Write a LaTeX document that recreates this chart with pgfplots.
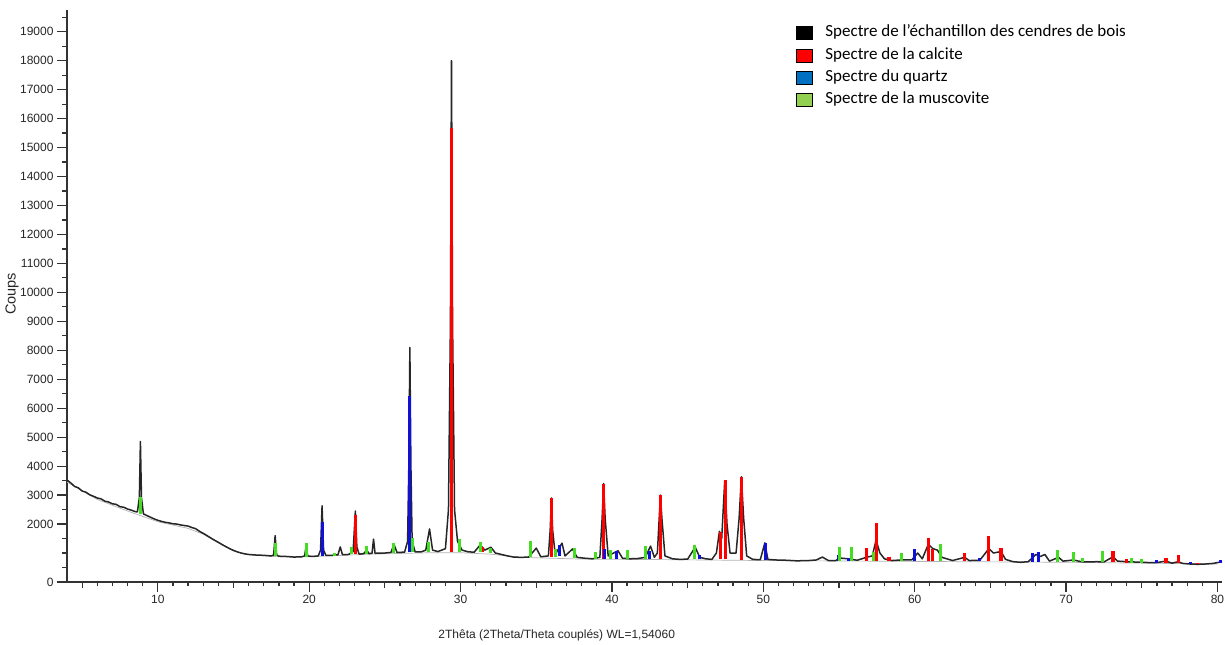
\documentclass[border=0pt]{standalone}
\usepackage{fontspec}
\setmainfont{Liberation Sans}
\newfontfamily\legfont{Carlito}
\usepackage{pgfplots}
\pgfplotsset{compat=1.18}
\definecolor{cred}{HTML}{FF0000}
\definecolor{cblue}{HTML}{1010DD}
\definecolor{cgreen}{HTML}{44DD22}
\definecolor{lblue}{HTML}{0070C0}
\definecolor{lgreen}{HTML}{92D050}
\begin{document}
\begin{tikzpicture}
\begin{axis}[
 scale only axis, width=1155pt, height=572pt,
 xmin=4, xmax=80.3, ymin=0, ymax=19750,
 axis lines=left, axis line style={-, line width=1.2pt, black!80},
 tick align=outside, major tick length=10pt, minor tick length=4.5pt,
 every tick/.style={line width=1.2pt, black!80},
 xtick={10,20,30,40,50,60,70,80},
 minor xtick={5,6,7,8,9,11,12,13,14,15,16,17,18,19,21,22,23,24,25,26,27,28,29,31,32,33,34,35,36,37,38,39,41,42,43,44,45,46,47,48,49,51,52,53,54,55,56,57,58,59,61,62,63,64,65,66,67,68,69,71,72,73,74,75,76,77,78,79},
 extra x ticks={5,15,25,35,45,55,65,75},
 extra x tick labels={},
 extra x tick style={major tick length=6.5pt},
 ytick={0,2000,3000,4000,5000,6000,7000,8000,9000,10000,11000,12000,13000,14000,15000,16000,17000,18000,19000},
 minor ytick={500,1000,1500,2500,3500,4500,5500,6500,7500,8500,9500,10500,11500,12500,13500,14500,15500,16500,17500,18500,19500},
 tick label style={font=\fontsize{12}{14}\selectfont, text=black!85},
 /pgf/number format/assume math mode=true,
 /pgf/number format/1000 sep={},
 scaled y ticks=false,
 xlabel={2Thêta (2Theta/Theta couplés) WL=1,54060},
 ylabel={Coups},
 xlabel style={at={(axis description cs:0.424,0)}, anchor=center, yshift=-53pt, font=\fontsize{12}{14}\selectfont, text=black!85},
 ylabel style={at={(axis description cs:-0.0476,0.504)}, anchor=center, font=\fontsize{14.5}{16}\selectfont, text=black!85},
 legend style={at={(0.631,0.976)}, anchor=north west, draw=none, fill=none, inner sep=0pt,
   font=\legfont\fontsize{17}{19}\selectfont, row sep=4.3pt, cells={anchor=west},
   nodes={inner sep=1pt, text height=12pt, text depth=4pt}},
 legend image code/.code={\fill[#1] (0pt,-6.5pt) rectangle (16pt,6.5pt); \path (28pt,0pt);},
 unbounded coords=jump,
]
\coordinate (bl) at (rel axis cs:0,0);
\coordinate (tr) at (rel axis cs:1,1);
\addlegendimage{fill=black}
\addlegendentry{Spectre de l’échantillon des cendres de bois}
\addlegendimage{fill=cred}
\addlegendentry{Spectre de la calcite}
\addlegendimage{fill=lblue}
\addlegendentry{Spectre du quartz}
\addlegendimage{fill=lgreen}
\addlegendentry{Spectre de la muscovite}
% smooth background
\addplot[forget plot, gray!60, line width=0.7pt] coordinates {
(4,3450) (6,2850) (8,2450) (10,2080) (12,1850) (13,1650) (14,1350) (15,1070) (16,940) (18,870) (20,870) (24,960) (28,1010) (30,1010) (32,960) (34,850) (38,790) (44,770) (50,740) (60,710) (70,680) (80,620)};
% measured spectrum
\addplot[forget plot, black!85, line width=1.5pt, line join=round] table {
x y
4.00 3520
4.25 3420
4.50 3300
4.75 3250
5.00 3140
5.25 3100
5.50 3010
5.75 2960
6.00 2900
6.25 2870
6.50 2790
6.75 2760
7.00 2700
7.25 2680
7.50 2600
7.75 2580
8.00 2520
8.25 2480
8.50 2430
8.65 2420
8.78 2900
8.85 4850
8.92 2900
9.05 2350
9.25 2300
9.50 2240
9.75 2180
10.00 2130
10.25 2090
10.50 2060
10.75 2040
11.00 2010
11.25 2000
11.50 1970
11.75 1950
12.00 1930
12.25 1880
12.50 1840
12.75 1750
13.00 1680
13.25 1600
13.50 1520
13.75 1440
14.00 1370
14.25 1290
14.50 1220
14.75 1150
15.00 1090
15.25 1040
15.50 1000
15.75 970
16.00 950
16.50 930
17.00 920
17.50 900
17.65 930
17.75 1600
17.85 930
18.00 890
18.50 880
19.00 860
19.50 870
19.70 900
19.80 1250
19.90 900
20.20 880
20.60 900
20.75 1100
20.85 2630
20.95 1100
21.10 920
21.50 920
21.90 940
22.05 1210
22.20 940
22.60 950
22.90 1050
23.05 2450
23.15 1200
23.30 960
23.60 980
23.80 1100
23.95 980
24.15 990
24.25 1480
24.35 990
24.70 1000
25.00 1000
25.40 1020
25.60 1300
25.80 1020
26.30 1030
26.50 1400
26.58 4000
26.65 8100
26.72 4000
26.80 1400
27.00 1040
27.40 1040
27.70 1100
27.95 1830
28.15 1100
28.50 1050
29.00 1150
29.20 2500
29.33 9000
29.40 18000
29.47 9000
29.60 2500
29.80 1400
30.10 1100
30.50 1040
30.90 1030
31.30 1280
31.60 1100
32.00 1200
32.30 1000
32.70 950
33.10 900
33.50 860
34.00 850
34.50 860
35.00 1170
35.30 870
35.80 900
35.92 1800
36.00 2900
36.08 1800
36.25 950
36.70 1340
36.90 900
37.40 1140
37.70 850
38.20 820
38.70 800
39.20 850
39.35 2200
39.45 3400
39.55 2200
39.75 900
40.40 1080
40.70 820
41.20 800
41.70 810
42.20 850
42.55 1240
42.80 850
43.00 1000
43.12 2200
43.20 3000
43.30 2200
43.50 900
44.00 800
44.50 780
45.00 790
45.50 1200
45.80 850
46.20 800
46.60 780
46.90 1000
47.10 1750
47.25 1500
47.45 3500
47.60 2000
47.80 1000
48.20 1000
48.40 2200
48.55 3630
48.70 2200
48.90 900
49.30 780
49.80 770
50.10 1350
50.30 780
50.80 760
51.50 750
52.20 730
53.00 740
53.50 760
53.90 860
54.30 740
54.80 740
55.00 830
55.60 800
56.20 750
56.80 850
57.20 900
57.45 1450
57.70 1000
58.00 800
58.50 740
59.10 760
59.80 760
60.20 1000
60.50 800
60.90 1300
61.20 1150
61.50 1100
61.80 850
62.50 740
63.30 850
63.60 740
64.30 750
64.90 1150
65.20 1000
65.70 1050
66.00 780
66.50 700
67.00 680
67.50 700
68.00 950
68.30 880
68.60 950
68.90 720
69.50 850
69.80 720
70.50 760
71.00 700
71.50 690
72.00 700
72.50 690
73.10 870
73.40 720
74.00 700
74.50 690
75.00 680
75.50 670
76.00 670
76.60 720
77.00 650
77.40 700
77.70 640
78.20 620
78.70 610
79.20 620
79.70 640
80.30 700
};
% calcite sticks
\addplot[forget plot, cred, line width=3.2pt] coordinates {
(23.05,950) (23.05,2320) (23.05,nan)
(29.40,1030) (29.40,15690) (29.40,nan)
(31.45,1020) (31.45,1210) (31.45,nan)
(36.00,860) (36.00,2900) (36.00,nan)
(39.45,800) (39.45,3390) (39.45,nan)
(43.20,800) (43.20,3000) (43.20,nan)
(47.15,780) (47.15,1730) (47.15,nan)
(47.50,780) (47.50,3520) (47.50,nan)
(48.55,770) (48.55,3630) (48.55,nan)
(56.80,740) (56.80,1170) (56.80,nan)
(57.45,740) (57.45,2040) (57.45,nan)
(58.30,730) (58.30,860) (58.30,nan)
(60.90,730) (60.90,1520) (60.90,nan)
(61.20,730) (61.20,1140) (61.20,nan)
(63.30,720) (63.30,1000) (63.30,nan)
(64.90,720) (64.90,1590) (64.90,nan)
(65.70,710) (65.70,1170) (65.70,nan)
(73.10,680) (73.10,1070) (73.10,nan)
(74.00,670) (74.00,795) (74.00,nan)
(76.60,660) (76.60,830) (76.60,nan)
(77.40,650) (77.40,930) (77.40,nan)
(78.70,610) (78.70,660)
};
% quartz sticks
\addplot[forget plot, cblue, line width=3pt] coordinates {
(20.85,900) (20.85,2070) (20.85,nan)
(26.65,1020) (26.65,6430) (26.65,nan)
(36.55,880) (36.55,1280) (36.55,nan)
(39.50,800) (39.50,1140) (39.50,nan)
(40.30,800) (40.30,1070) (40.30,nan)
(42.45,790) (42.45,1070) (42.45,nan)
(45.80,780) (45.80,930) (45.80,nan)
(50.15,750) (50.15,1350) (50.15,nan)
(54.95,740) (54.95,930) (54.95,nan)
(55.60,730) (55.60,830) (55.60,nan)
(60.00,720) (60.00,1140) (60.00,nan)
(64.30,720) (64.30,830) (64.30,nan)
(67.75,700) (67.75,1000) (67.75,nan)
(68.20,700) (68.20,1040) (68.20,nan)
(76.00,660) (76.00,760) (76.00,nan)
(78.20,620) (78.20,690) (78.20,nan)
(80.20,640) (80.20,760)
};
% muscovite sticks
\addplot[forget plot, cgreen, line width=3pt] coordinates {
(8.85,2350) (8.85,2950) (8.85,nan)
(17.75,900) (17.75,1350) (17.75,nan)
(19.80,870) (19.80,1350) (19.80,nan)
(21.70,910) (21.70,1000) (21.70,nan)
(22.80,950) (22.80,1200) (22.80,nan)
(23.80,980) (23.80,1240) (23.80,nan)
(25.60,1010) (25.60,1350) (25.60,nan)
(26.80,1030) (26.80,1520) (26.80,nan)
(27.90,1040) (27.90,1380) (27.90,nan)
(29.95,1040) (29.95,1480) (29.95,nan)
(31.30,1030) (31.30,1380) (31.30,nan)
(32.00,1000) (32.00,1180) (32.00,nan)
(34.60,850) (34.60,1410) (34.60,nan)
(36.30,870) (36.30,1140) (36.30,nan)
(37.50,830) (37.50,1170) (37.50,nan)
(38.90,800) (38.90,1040) (38.90,nan)
(39.90,800) (39.90,1100) (39.90,nan)
(41.00,800) (41.00,1100) (41.00,nan)
(42.20,790) (42.20,1240) (42.20,nan)
(45.45,780) (45.45,1280) (45.45,nan)
(55.00,740) (55.00,1210) (55.00,nan)
(55.85,730) (55.85,1210) (55.85,nan)
(57.30,730) (57.30,1040) (57.30,nan)
(59.10,720) (59.10,1000) (59.10,nan)
(61.70,720) (61.70,1310) (61.70,nan)
(69.40,690) (69.40,1100) (69.40,nan)
(70.50,690) (70.50,1040) (70.50,nan)
(71.10,690) (71.10,830) (71.10,nan)
(72.40,680) (72.40,1070) (72.40,nan)
(74.30,670) (74.30,830) (74.30,nan)
(75.00,670) (75.00,795)
};
\end{axis}
\pgfresetboundingbox
\path[use as bounding box] ([shift={(-67pt,-63pt)}]bl) rectangle ([shift={(3pt,10pt)}]tr);
\end{tikzpicture}
\end{document}
